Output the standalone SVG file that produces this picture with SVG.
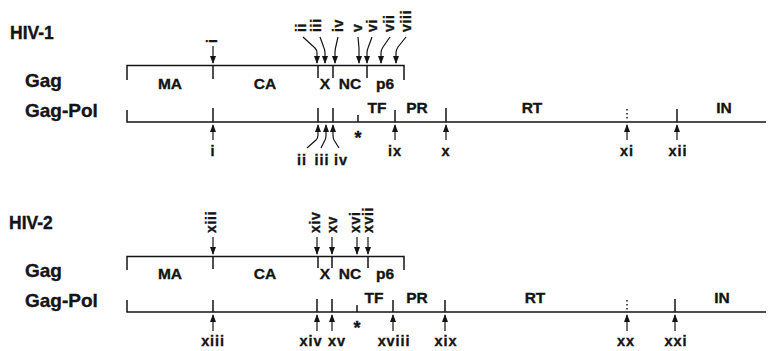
<svg xmlns="http://www.w3.org/2000/svg" width="770" height="351" viewBox="0 0 770 351">
<style>
.t{font-family:"Liberation Sans",Arial,sans-serif;font-weight:bold;fill:#141414;stroke:#141414;stroke-width:0.35}
.h{font-size:17.5px}
.g{font-size:19px}
.s{font-size:15.5px;text-anchor:middle}
.n{font-size:14.5px;text-anchor:middle;letter-spacing:0.9px}
.r{font-size:14px;letter-spacing:0.7px}
.ast{font-size:18px;text-anchor:middle}
.ln{stroke:#141414;stroke-width:1.5;fill:none}
.dot{stroke:#141414;stroke-width:1.5;fill:none;stroke-dasharray:1.5 2.5}
.ar{stroke:#141414;stroke-width:1.2;fill:none;marker-end:url(#ah)}
</style>
<defs>
<marker id="ah" viewBox="0 0 8 6" refX="7" refY="3" markerWidth="8" markerHeight="6" markerUnits="userSpaceOnUse" orient="auto">
<path d="M0,0 L8,3 L0,6 z" fill="#141414"/>
</marker>
</defs>
<rect width="770" height="351" fill="#fff"/>

<!-- HIV-1 -->
<g id="hiv1-title"><text class="t h" x="10" y="39">HIV-1</text></g>
<g id="hiv1-gag">
<text class="t g" x="25" y="87">Gag</text>
<path class="ln" d="M127,80 V65.5 H404 V80 M213,65.5 V79 M318,65.5 V78 M333,65.5 V78 M367,65.5 V78"/>
<text class="t s" x="170" y="89">MA</text>
<text class="t s" x="265" y="89">CA</text>
<text class="t s" x="325" y="89">X</text>
<text class="t s" x="350" y="89">NC</text>
<text class="t s" x="385" y="89">p6</text>
</g>
<g id="hiv1-gagpol">
<text class="t g" x="25" y="117">Gag-Pol</text>
<path class="ln" d="M127,110 V122 H766 M213,108 V122 M318,108 V122 M333,108 V122 M358,115 V122 M395,110 V122 M446,108 V122 M677,109 V122"/>
<path class="dot" d="M627,109 V121"/>
<text class="t s" x="377" y="113">TF</text>
<text class="t s" x="417" y="113">PR</text>
<text class="t s" x="532" y="113">RT</text>
<text class="t s" x="724" y="113">IN</text>
<text class="t ast" x="358" y="144">*</text>
</g>
<g id="hiv1-sites-top">
<text class="t r" transform="translate(216.5,43) rotate(-90)">i</text>
<text class="t r" transform="translate(305.5,32) rotate(-90)">ii</text>
<text class="t r" transform="translate(320.5,32) rotate(-90)">iii</text>
<text class="t r" transform="translate(342.5,32) rotate(-90)">iv</text>
<text class="t r" transform="translate(361.5,32) rotate(-90)">v</text>
<text class="t r" transform="translate(376.5,32) rotate(-90)">vi</text>
<text class="t r" transform="translate(393.5,32) rotate(-90)">vii</text>
<text class="t r" transform="translate(410.5,32) rotate(-90)">viii</text>
</g>
<g id="hiv1-sites-bottom">
<text class="t n" x="213" y="156">i</text>
<text class="t n" x="302" y="165">ii</text>
<text class="t n" x="322" y="165">iii</text>
<text class="t n" x="341" y="165">iv</text>
<text class="t n" x="395" y="156">ix</text>
<text class="t n" x="446" y="156">x</text>
<text class="t n" x="627" y="156">xi</text>
<text class="t n" x="678" y="156">xii</text>
</g>

<!-- HIV-2 -->
<g id="hiv2-title"><text class="t h" x="9" y="229">HIV-2</text></g>
<g id="hiv2-gag">
<text class="t g" x="25" y="277">Gag</text>
<path class="ln" d="M127,270 V256.5 H404 V270 M213,256.5 V269 M318,256.5 V268 M332,256.5 V268 M368,256.5 V268"/>
<text class="t s" x="170" y="279">MA</text>
<text class="t s" x="265" y="279">CA</text>
<text class="t s" x="325" y="279">X</text>
<text class="t s" x="350" y="279">NC</text>
<text class="t s" x="385" y="279">p6</text>
</g>
<g id="hiv2-gagpol">
<text class="t g" x="25" y="307">Gag-Pol</text>
<path class="ln" d="M127,300 V312 H766 M213,300 V312 M317,299 V312 M332,299 V312 M357,305 V312 M393,300 V312 M445,300 V312 M675,299 V312"/>
<path class="dot" d="M627,300 V311"/>
<text class="t s" x="374" y="303">TF</text>
<text class="t s" x="417" y="303">PR</text>
<text class="t s" x="535" y="303">RT</text>
<text class="t s" x="722" y="303">IN</text>
<text class="t ast" x="357" y="334">*</text>
</g>
<g id="hiv2-sites-top">
<text class="t r" transform="translate(215.5,233) rotate(-90)">xiii</text>
<text class="t r" transform="translate(319.5,233) rotate(-90)">xiv</text>
<text class="t r" transform="translate(336.5,233) rotate(-90)">xv</text>
<text class="t r" transform="translate(359.5,233) rotate(-90)">xvi</text>
<text class="t r" transform="translate(372.5,233) rotate(-90)">xvii</text>
</g>
<g id="hiv2-sites-bottom">
<text class="t n" x="213" y="346">xiii</text>
<text class="t n" x="311" y="346">xiv</text>
<text class="t n" x="337" y="346">xv</text>
<text class="t n" x="394" y="346">xviii</text>
<text class="t n" x="446" y="346">xix</text>
<text class="t n" x="626" y="346">xx</text>
<text class="t n" x="676" y="346">xxi</text>
</g>

<g id="connectors">
<!-- HIV-1 top -->
<path class="ar" d="M213,46 V63"/>
<path class="ar" d="M303,37 L315,48 Q317,50 317,53 V63"/>
<path class="ar" d="M320,37 L324,48 Q325,50 325,53 V63"/>
<path class="ar" d="M338,37 L335.5,48 Q335,50 335,53 V63"/>
<path class="ar" d="M358,37 L359,48 Q359,50 359,53 V63"/>
<path class="ar" d="M372,37 L368,48 Q367,50 367,53 V63"/>
<path class="ar" d="M390,37 L383,47 Q381,50 381,53 V63"/>
<path class="ar" d="M406,37 L398,47 Q396,50 396,53 V63"/>
<!-- HIV-1 bottom -->
<path class="ar" d="M213,140 V125"/>
<path class="ar" d="M307,148 L316,140 Q318,138 318,135 V125"/>
<path class="ar" d="M321,148 L325,140 Q326,138 326,135 V125"/>
<path class="ar" d="M339,148 L334,140 Q333,138 333,135 V125"/>
<path class="ar" d="M395,140 V125"/>
<path class="ar" d="M446,140 V125"/>
<path class="ar" d="M627,140 V125"/>
<path class="ar" d="M677,140 V125"/>
<!-- HIV-2 top -->
<path class="ar" d="M213,237 V254"/>
<path class="ar" d="M317,237 V254"/>
<path class="ar" d="M332,237 V254"/>
<path class="ar" d="M357,237 V254"/>
<path class="ar" d="M368,237 V254"/>
<!-- HIV-2 bottom -->
<path class="ar" d="M213,331 V315"/>
<path class="ar" d="M317,331 V315"/>
<path class="ar" d="M332,331 V315"/>
<path class="ar" d="M393,331 V315"/>
<path class="ar" d="M445,331 V315"/>
<path class="ar" d="M627,331 V315"/>
<path class="ar" d="M675,331 V315"/>
</g>
</svg>
